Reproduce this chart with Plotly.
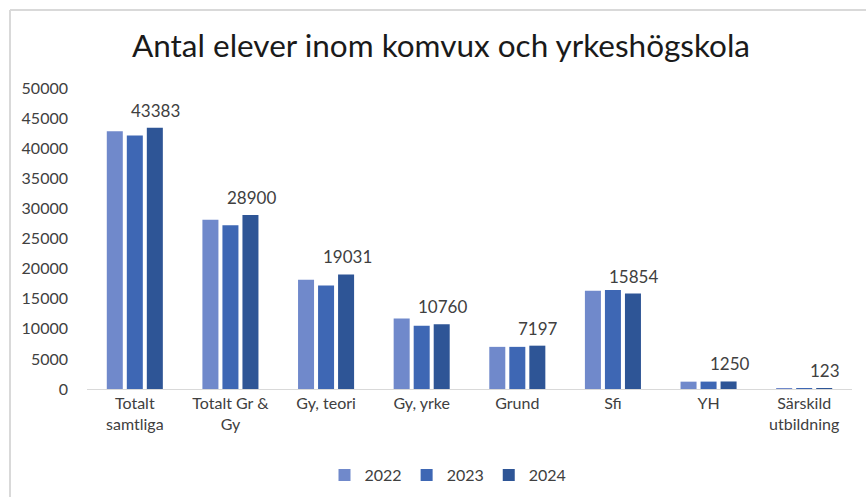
import plotly.graph_objects as go

categories = ["Totalt<br>samtliga", "Totalt Gr &<br>Gy", "Gy, teori", "Gy, yrke",
              "Grund", "Sfi", "YH", "Särskild<br>utbildning"]
years = ["2022", "2023", "2024"]
v2022 = [42800, 28100, 18150, 11700, 7000, 16300, 1220, 110]
v2023 = [42100, 27200, 17200, 10500, 7000, 16450, 1230, 115]
v2024 = [43383, 28900, 19031, 10760, 7197, 15854, 1250, 123]
colors = ["#7089CB", "#3E67B4", "#2E5596"]
y_ticks = [0, 5000, 10000, 15000, 20000, 25000, 30000, 35000, 40000, 45000, 50000]

W, H = 866, 497
L, R, T, B = 87, 14, 88, 108
plot_w = W - L - R
plot_h = H - T - B
bargap = 0.372
bargroupgap = 0.2

FONT = "Lato, Carlito, Calibri, sans-serif"

fig = go.Figure()
for name, vals, col in zip(years, [v2022, v2023, v2024], colors):
    fig.add_trace(go.Bar(x=categories, y=vals, name=name,
                         marker=dict(color=col, line=dict(width=0)),
                         hoverinfo="x+y+name"))

# data labels above the 2024 bars
cat_px = plot_w / len(categories)
slot_px = (1 - bargap) * cat_px / 3
annotations = []
for c, v in zip(categories, v2024):
    annotations.append(dict(x=c, y=v, xref="x", yref="y", text=str(v),
                            showarrow=False, xshift=slot_px + 1, yshift=5,
                            yanchor="bottom", xanchor="center",
                            font=dict(family=FONT, size=17, color="#404040")))

def px_x(p):
    return (p - L) / plot_w

def px_y(p):
    return (H - B - p) / plot_h

shapes = [
    dict(type="line", xref="paper", yref="paper",
         x0=px_x(10), x1=px_x(10), y0=px_y(10), y1=px_y(505),
         line=dict(color="#D9D9D9", width=2)),
    dict(type="line", xref="paper", yref="paper",
         x0=px_x(10), x1=px_x(875), y0=px_y(10), y1=px_y(10),
         line=dict(color="#D9D9D9", width=2)),
]

fig.update_layout(
    width=W, height=H,
    margin=dict(l=L, r=R, t=T, b=B, pad=0, autoexpand=False),
    paper_bgcolor="white", plot_bgcolor="white",
    barmode="group", bargap=bargap, bargroupgap=bargroupgap,
    title=dict(text="Antal elever inom komvux och yrkeshögskola",
               x=px_x(441), xref="paper", xanchor="center",
               y=1 - 46 / H, yref="container", yanchor="middle",
               font=dict(family=FONT, size=31.5, color="#1A1A1A")),
    font=dict(family=FONT, size=15, color="#595959"),
    xaxis=dict(showgrid=False, showline=True, linecolor="#D9D9D9", linewidth=1,
               ticks="", tickfont=dict(family=FONT, size=16, color="#404040"),
               automargin=False, fixedrange=True),
    yaxis=dict(range=[0, 50000], tickvals=y_ticks, ticktext=[str(t) for t in y_ticks],
               showgrid=False, zeroline=False, showline=False, ticks="",
               ticklabelstandoff=18, automargin=False,
               tickfont=dict(family=FONT, size=16, color="#404040"),
               fixedrange=True),
    legend=dict(orientation="h", x=px_x(448), xanchor="center",
                y=px_y(475), yanchor="middle",
                font=dict(family=FONT, size=16, color="#404040"),
                itemwidth=30, traceorder="normal"),
    annotations=annotations,
    shapes=shapes,
)

fig.write_html("out.html",
               config={"displayModeBar": False},
               post_script="document.body.style.margin='0';document.body.style.overflow='hidden';")
